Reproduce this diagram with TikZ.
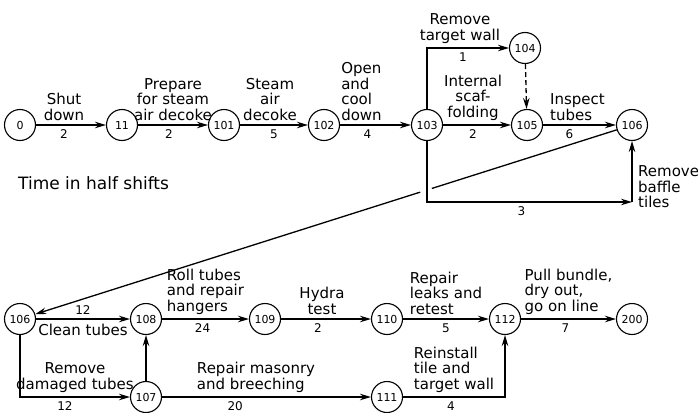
\documentclass[tikz,border=0pt]{standalone}
\usepackage{fontspec}
\setmainfont{DejaVu Sans}
\usetikzlibrary{arrows.meta,calc}
\tikzset{
  ev/.style={draw,circle,line width=1.1pt,minimum size=31pt,inner sep=0pt,font=\fontsize{11}{11}\selectfont},
  act/.style={line width=1.3pt,-{Stealth[length=11pt,width=6.5pt]}},
  txt/.style={font=\fontsize{15}{15.5}\selectfont,inner sep=4pt},
  num/.style={font=\fontsize{12}{12}\selectfont,inner sep=4pt}
}
\begin{document}
\begin{tikzpicture}[x=1pt,y=-1pt]
        \useasboundingbox(0,0)rectangle(698,412);
        \node[ev](E0)at(20,125){0};
        \node[ev](E11)at(122,125){11};
        \node[ev](E101)at(224,125){101};
        \node[ev](E102)at(324,125){102};
        \node[ev](E103)at(427,125){103};
        \node[ev](E104)at(525,48){104};
        \node[ev](E105)at(527,125){105};
        \node[ev](E106)at(632,125){106};
        \coordinate(K)at(632,202);
        \node[ev](F106)at(20,319){106};
        \node[ev](E107)at(146,397){107};
        \node[ev](E108)at(146,319){108};
        \node[ev](E109)at(265,319){109};
        \node[ev](E110)at(387,319){110};
        \node[ev](E111)at(387,397){111};
        \node[ev](E112)at(505,319){112};
        \node[ev](E200)at(632,319){200};
        \draw[act](E0)--(E11)node[pos=0.4,above,txt,align=center]{Shut\\down}node[pos=0.4,below,num]{2};
        \draw[act](E11)--(E101)node[midway,above,txt,align=center]{Prepare\\for steam\\air decoke}node[midway,below,num,xshift=-4pt]{2};
        \draw[act](E101)--(E102)node[midway,above,txt,align=center,xshift=-4pt]{Steam\\air\\decoke}node[midway,below,num]{5};
        \draw[act](E102)--(E103)node[midway,above,txt,align=left,xshift=-14pt]{Open\\and\\cool\\down}node[midway,below,num,xshift=-8pt]{4};
        \draw[act](E103)|-(E104)node[pos=0.75,above,txt,align=center,xshift=-8pt]{Remove\\target wall}node[pos=0.75,below,num,xshift=-5pt]{1};
        \draw[act,dash pattern=on 5pt off 3pt](E104)--(E105);
        \draw[act](E103)--(E105)node[midway,above,txt,align=center,xshift=-4pt]{Internal\\scaf-\\folding}node[midway,below,num,xshift=-4pt]{2};
        \draw[act](E105)--(E106)node[midway,above,txt,align=left,xshift=-2pt]{Inspect\\tubes}node[midway,below,num,xshift=-10pt]{6};
        \draw[act](E103)|-(K)node[pos=0.75,below,num,xshift=-8pt]{3};
        \draw[act](K)--(E106);
        \node[txt,align=left,anchor=west]at(634,187){Remove\\baffle\\tiles};
        \node[txt,font=\fontsize{17}{17}\selectfont,anchor=west]at(14,183){Time in half shifts};
        \draw[line width=1.3pt](E106)--($(E106)!0.327!(F106)$);
        \draw[act]($(E106)!0.346!(F106)$)--(F106);
        \draw[act](F106)--(E108)node[midway,above,num]{12}node[midway,below,txt]{Clean tubes};
        \draw[act](E108)--(E109)node[midway,above,txt,align=left]{Roll tubes\\and repair\\hangers}node[midway,below,num,xshift=-3pt]{24};
        \draw[act](E109)--(E110)node[midway,above,txt,align=center,xshift=-4pt]{Hydra\\test}node[midway,below,num,xshift=-8pt]{2};
        \draw[act](E110)--(E112)node[midway,above,txt,align=left]{Repair\\leaks and\\retest}node[midway,below,num]{5};
        \draw[act](E112)--(E200)node[midway,above,txt,align=left]{Pull bundle,\\dry out,\\go on line}node[midway,below,num,xshift=-3pt]{7};
        \draw[act](F106)|-(E107)node[pos=0.75,above,txt,align=center]{Remove\\damaged tubes}node[pos=0.75,below,num,xshift=-10pt]{12};
        \draw[act](E107)--(E108);
        \draw[act](E107)--(E111)node[pos=0.45,above,txt,align=left]{Repair masonry\\and breeching}node[pos=0.35,below,num]{20};
        \draw[act](E111)-|(E112)node[pos=0.25,above,txt,align=left]{Reinstall\\tile and\\target wall}node[pos=0.25,below,num,xshift=-3pt]{4};
    \end{tikzpicture}
\end{document}
